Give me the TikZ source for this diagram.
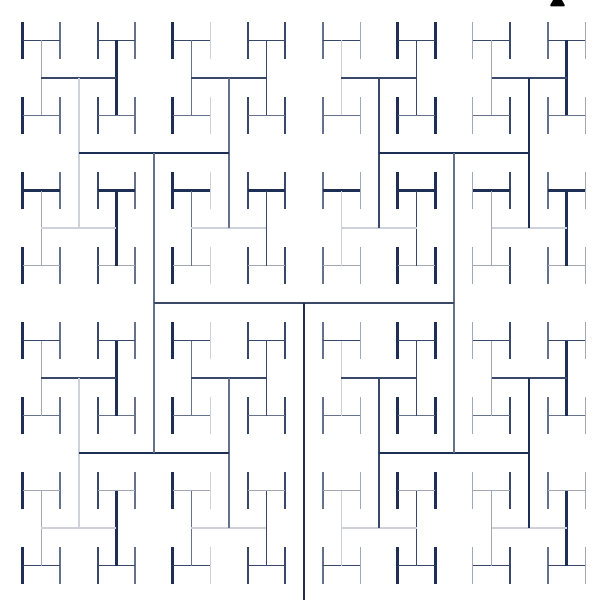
\documentclass[tikz,border=0pt]{standalone}
\usepackage{tikz}
\definecolor{navy}{HTML}{1E2F55}

\begin{document}
\begin{tikzpicture}[x=1pt,y=1pt,
                    br1/.style={navy!22,line width=1.3pt},
                    br2/.style={navy!42,line width=1.4pt},
                    br3/.style={navy!68,line width=1.6pt},
                    br4/.style={navy!88,line width=1.9pt},
                    br5/.style={navy,line width=2.8pt}]
                    \clip (-304,-297) rectangle (292,303);
                    \fill[white] (-304,-297) rectangle (292,303);
                    \foreach \x/\s in {-281.25/br5,-243.75/br3,-206.25/br4,-168.75/br3,-131.25/br5,-93.75/br1,-56.25/br4,-18.75/br4,
                                       18.75/br3,56.25/br2,93.75/br5,131.25/br5,168.75/br2,206.25/br4,243.75/br3,281.25/br2}
                        \foreach \y in {262.5,187.5,112.5,37.5,-37.5,-112.5,-187.5,-262.5}
                            \draw[\s] (\x,\y-18.75) -- (\x,\y+18.75);
                    \foreach \y/\s in {262.5/br4,187.5/br3,112.5/br5,37.5/br2,-37.5/br4,-112.5/br3,-187.5/br2,-262.5/br4}
                        \foreach \x in {-262.5,-187.5,-112.5,-37.5,37.5,112.5,187.5,262.5}
                            \draw[\s] (\x-18.75,\y) -- (\x+18.75,\y);
                    \foreach \x/\s in {-262.5/br2,-187.5/br5,-112.5/br3,-37.5/br4,37.5/br1,112.5/br4,187.5/br2,262.5/br5}
                        \foreach \y in {225,75,-75,-225}
                            \draw[\s] (\x,\y-37.5) -- (\x,\y+37.5);
                    \foreach \y/\s in {225/br4,75/br1,-75/br4,-225/br1}
                        \foreach \x in {-225,-75,75,225}
                            \draw[\s] (\x-37.5,\y) -- (\x+37.5,\y);
                    \foreach \x/\s in {-225/br1,-75/br3,75/br4,225/br5}
                        \foreach \y in {150,-150}
                            \draw[\s] (\x,\y-75) -- (\x,\y+75);
                    \foreach \y in {150,-150}
                        \foreach \x in {-150,150}
                            \draw[br5] (\x-75,\y) -- (\x+75,\y);
                    \draw[br3] (-150,-150) -- (-150,150);
                    \draw[br3] (150,-150) -- (150,150);
                    \draw[br4] (-150,0) -- (150,0);
                    \draw[br5] (0,-297) -- (0,0);
                    \fill[black,rounded corners=2pt] (245.5,296.5) -- (261.5,296.5) -- (253.5,311) -- cycle;
                \end{tikzpicture}
\end{document}
